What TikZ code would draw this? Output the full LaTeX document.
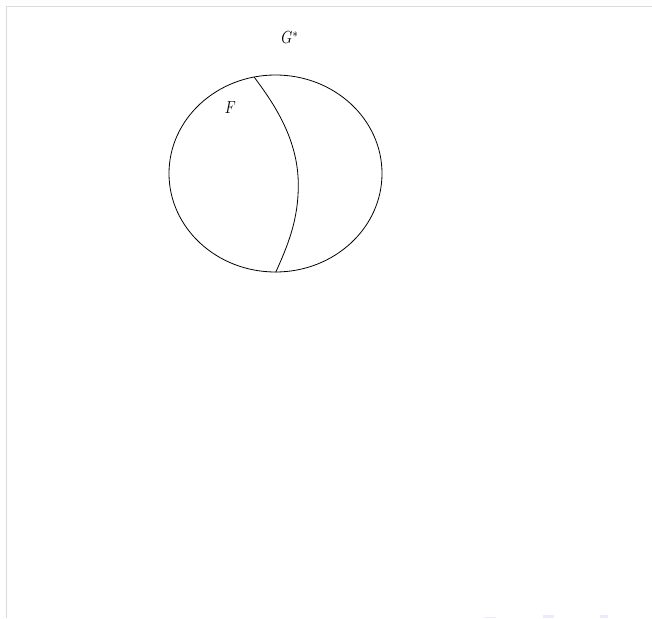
\documentclass[tikz,border=0pt]{standalone}
\begin{document}
\begin{tikzpicture}[x=1pt,y=-1pt,
  frameline/.style={draw=black!14, line width=1.2pt},
  outline/.style={draw=black, line width=0.8pt},
  lbl/.style={inner sep=0pt, xscale=1.4, yscale=1.75, anchor=base west},
  navsym/.style={fill=blue!15!white, draw=none, opacity=0.5}]
\useasboundingbox (0,0) rectangle (652,618);
\fill[white] (0,0) rectangle (652,618);
\draw[frameline] (652,6.5) -- (6.5,6.5) -- (6.5,618);
\draw[outline] (275.5,173.5) ellipse [x radius=106.5, y radius=98.5];
\coordinate (ctop) at (254.3,77.3);
\coordinate (cmid) at (298.3,185);
\coordinate (cbot) at (275.7,272.3);
\draw[outline] (ctop) .. controls (275,105) and (298.3,140) .. (cmid)
  .. controls (298.3,220) and (288,245) .. (cbot);
\node[lbl] (gstar) at (281,43.5) {$G^*$};
\node[lbl] (f) at (224.5,113.7) {$F$};
\fill[navsym] (484,616.5) rectangle (496,618);
\fill[navsym] (543,615) rectangle (554,618);
\fill[navsym] (600,615) rectangle (608,618);
\end{tikzpicture}
\end{document}
